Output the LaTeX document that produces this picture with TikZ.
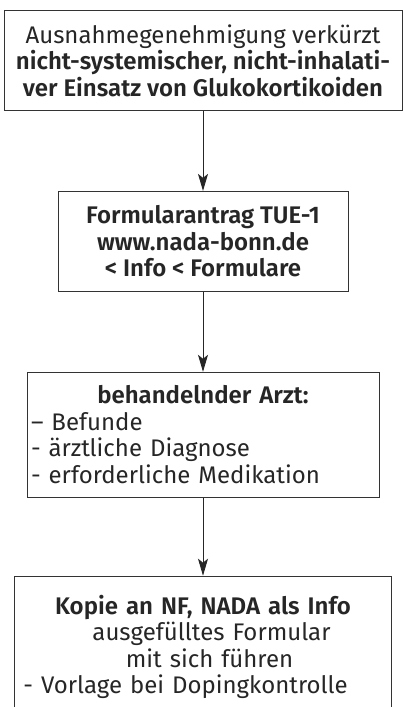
\documentclass[tikz,border=0pt]{standalone}
\usepackage{fontspec}
\setmainfont{Fira Sans}[BoldFont={Fira Sans SemiBold}]
\usetikzlibrary{arrows.meta, positioning}

\begin{document}
\begin{tikzpicture}[x=1pt, y=1pt]
	\tikzset {>={Stealth[length=17pt, width=10pt, inset=4pt]}, node distance=80pt,
		box/.style={draw=black!80, line width=0.9pt, inner sep=4pt, text=black!85, font=\fontsize{24}{26.5}\selectfont} }
	\useasboundingbox (0,0) rectangle (404,-707);

	\node[box, anchor=north, minimum width=398pt, minimum height=100pt, align=center] (ausnahme) at (203,-10)
		{Ausnahmegenehmigung verkürzt\\ \textbf{nicht-systemischer, nicht-inhalati-}\\ \textbf{ver Einsatz von Glukokortikoiden}};
	\node[box, below=of ausnahme, minimum width=290pt, minimum height=100pt, align=center] (antrag)
		{\textbf{Formularantrag TUE-1}\\ \textbf{www.nada-bonn.de}\\ \textbf{< Info < Formulare}};
	\node[box, below=of antrag, text width=344pt, minimum height=125pt, align=left] (arzt)
		{\makebox[\linewidth]{\textbf{behandelnder Arzt:}}\\ – Befunde\\ - ärztliche Diagnose\\ - erforderliche Medikation};
	\node[box, below=78pt of arzt, text width=369pt, minimum height=142pt, align=center] (kopie)
		{\textbf{Kopie an NF, NADA als Info}\\ \hspace*{17pt}ausgefülltes Formular\\ \hspace*{13pt}mit sich führen\\ \makebox[\linewidth][l]{\hspace{5pt}- Vorlage bei Dopingkontrolle}};

	\draw[line width=0.9pt, black!85]
		(ausnahme.south) edge[->] (antrag.north)
		(antrag.south) edge[->] (arzt.north)
		(arzt.south) edge[->] (kopie.north);
\end{tikzpicture}
\end{document}
